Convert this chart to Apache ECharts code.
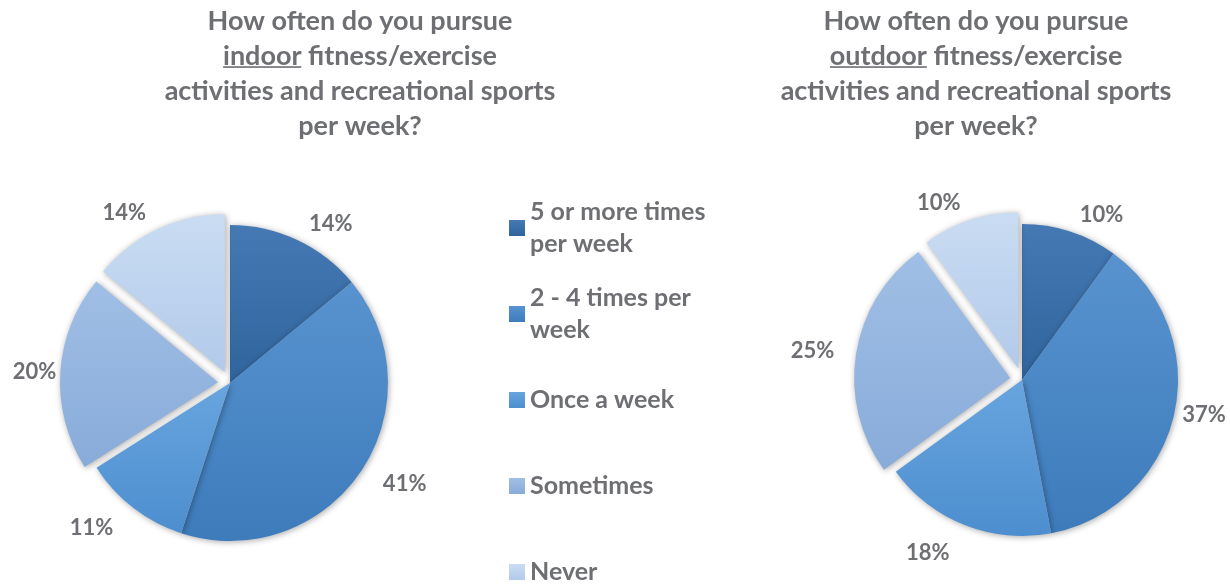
<!DOCTYPE html>
<html>
<head>
<meta charset="utf-8">
<script src="https://cdn.jsdelivr.net/npm/echarts@6/dist/echarts.min.js"></script>
<style>
html,body{margin:0;padding:0;background:#fff;}
#chart{width:1230px;height:586px;}
</style>
</head>
<body>
<div id="chart"></div>
<script>
// ---- data ----
const categories = ['5 or more times\nper week', '2 - 4 times per\nweek', 'Once a week', 'Sometimes', 'Never'];
const indoorValues = [14, 41, 11, 20, 14];
const outdoorValues = [10, 37, 18, 25, 10];
const explodedCategories = ['Sometimes', 'Never'];
const indoorTitle = ['How often do you pursue', 'indoor', ' fitness/exercise', 'activities and recreational sports', 'per week?'];
const outdoorTitle = ['How often do you pursue', 'outdoor', ' fitness/exercise', 'activities and recreational sports', 'per week?'];

// ---- styles ----
const sliceColors = [
  ['#4479b4', '#30649c'],
  ['#5893cf', '#3d7bbb'],
  ['#68a5df', '#4d8ecf'],
  ['#a0bfe6', '#88abd9'],
  ['#c9dcf2', '#b2caea']
];
// label distance from slice edge (per category), indoor / outdoor
const indoorLabelLen = [18, 22, 26, 0, 18];
const outdoorLabelLen = [18, 4, 30, 18, 18];
const textGray = '#6e6f73';
const FONT = 'Lato, "Open Sans", sans-serif';

function grad(i) {
  return new echarts.graphic.LinearGradient(0, 0, 0, 1, [
    { offset: 0, color: sliceColors[i][0] },
    { offset: 1, color: sliceColors[i][1] }
  ]);
}

function buildData(values, lens) {
  return categories.map((name, i) => ({
    name: name,
    value: values[i],
    selected: explodedCategories.indexOf(name) >= 0,
    itemStyle: { color: grad(i) },
    labelLine: { show: false, length: lens[i], length2: 0 }
  }));
}

const underlineSvg = "data:image/svg+xml;utf8," + encodeURIComponent(
  "<svg xmlns='http://www.w3.org/2000/svg' width='100' height='100' viewBox='0 0 100 100' preserveAspectRatio='none'><rect x='0' y='86' width='100' height='6' fill='#6e6f73'/></svg>");

function titleText(parts) {
  return '{b|' + parts[0] + '}\n{u|' + parts[1] + '}{b|' + parts[2] + '}\n{b|' + parts[3] + '}\n{b|' + parts[4] + '}';
}
const titleRich = {
  b: { fontFamily: FONT, fontWeight: 'bold', fontSize: 27, color: textGray, lineHeight: 35 },
  u: { fontFamily: FONT, fontWeight: 'bold', fontSize: 27, color: textGray, lineHeight: 35,
       backgroundColor: { image: underlineSvg } }
};

function pieSeries(name, values, center, radius, lens) {
  return {
    name: name,
    type: 'pie',
    center: center,
    radius: radius,
    startAngle: 90,
    clockwise: true,
    selectedMode: 'multiple',
    selectedOffset: 12,
    avoidLabelOverlap: false,
    animation: false,
    emphasis: { disabled: true },
    itemStyle: {
      shadowBlur: 6,
      shadowColor: 'rgba(0,0,0,0.35)',
      shadowOffsetX: 1,
      shadowOffsetY: 1
    },
    label: {
      show: true,
      position: 'outside',
      formatter: '{c}%',
      fontFamily: FONT,
      fontWeight: 'bold',
      fontSize: 22,
      color: textGray,
      distanceToLabelLine: 4
    },
    labelLine: { show: false, length: 18, length2: 0 },
    data: buildData(values, lens)
  };
}

const legendData = categories.map(name => ({
  name: name,
  textStyle: { padding: name.indexOf('\n') >= 0 ? [32, 0, 0, 0] : [32, 0, 32, 0] }
}));

const chart = echarts.init(document.getElementById('chart'), null, { renderer: 'canvas' });
chart.setOption({
  backgroundColor: '#ffffff',
  animation: false,
  title: [
    { text: titleText(indoorTitle), left: 360, top: 4, textAlign: 'center', padding: 0,
      textStyle: { rich: titleRich } },
    { text: titleText(outdoorTitle), left: 976, top: 4, textAlign: 'center', padding: 0,
      textStyle: { rich: titleRich } }
  ],
  legend: {
    orient: 'vertical',
    left: 509,
    top: 180,
    height: 560,
    padding: 0,
    itemGap: -10,
    itemWidth: 16,
    itemHeight: 16,
    icon: 'rect',
    selectedMode: false,
    data: legendData,
    textStyle: {
      fontFamily: FONT,
      fontWeight: 'bold',
      fontSize: 25,
      lineHeight: 32,
      color: textGray
    }
  },
  series: [
    pieSeries('Indoor', indoorValues, [230, 383], 158, indoorLabelLen),
    pieSeries('Outdoor', outdoorValues, [1022, 380], 156, outdoorLabelLen)
  ]
});
</script>
</body>
</html>
